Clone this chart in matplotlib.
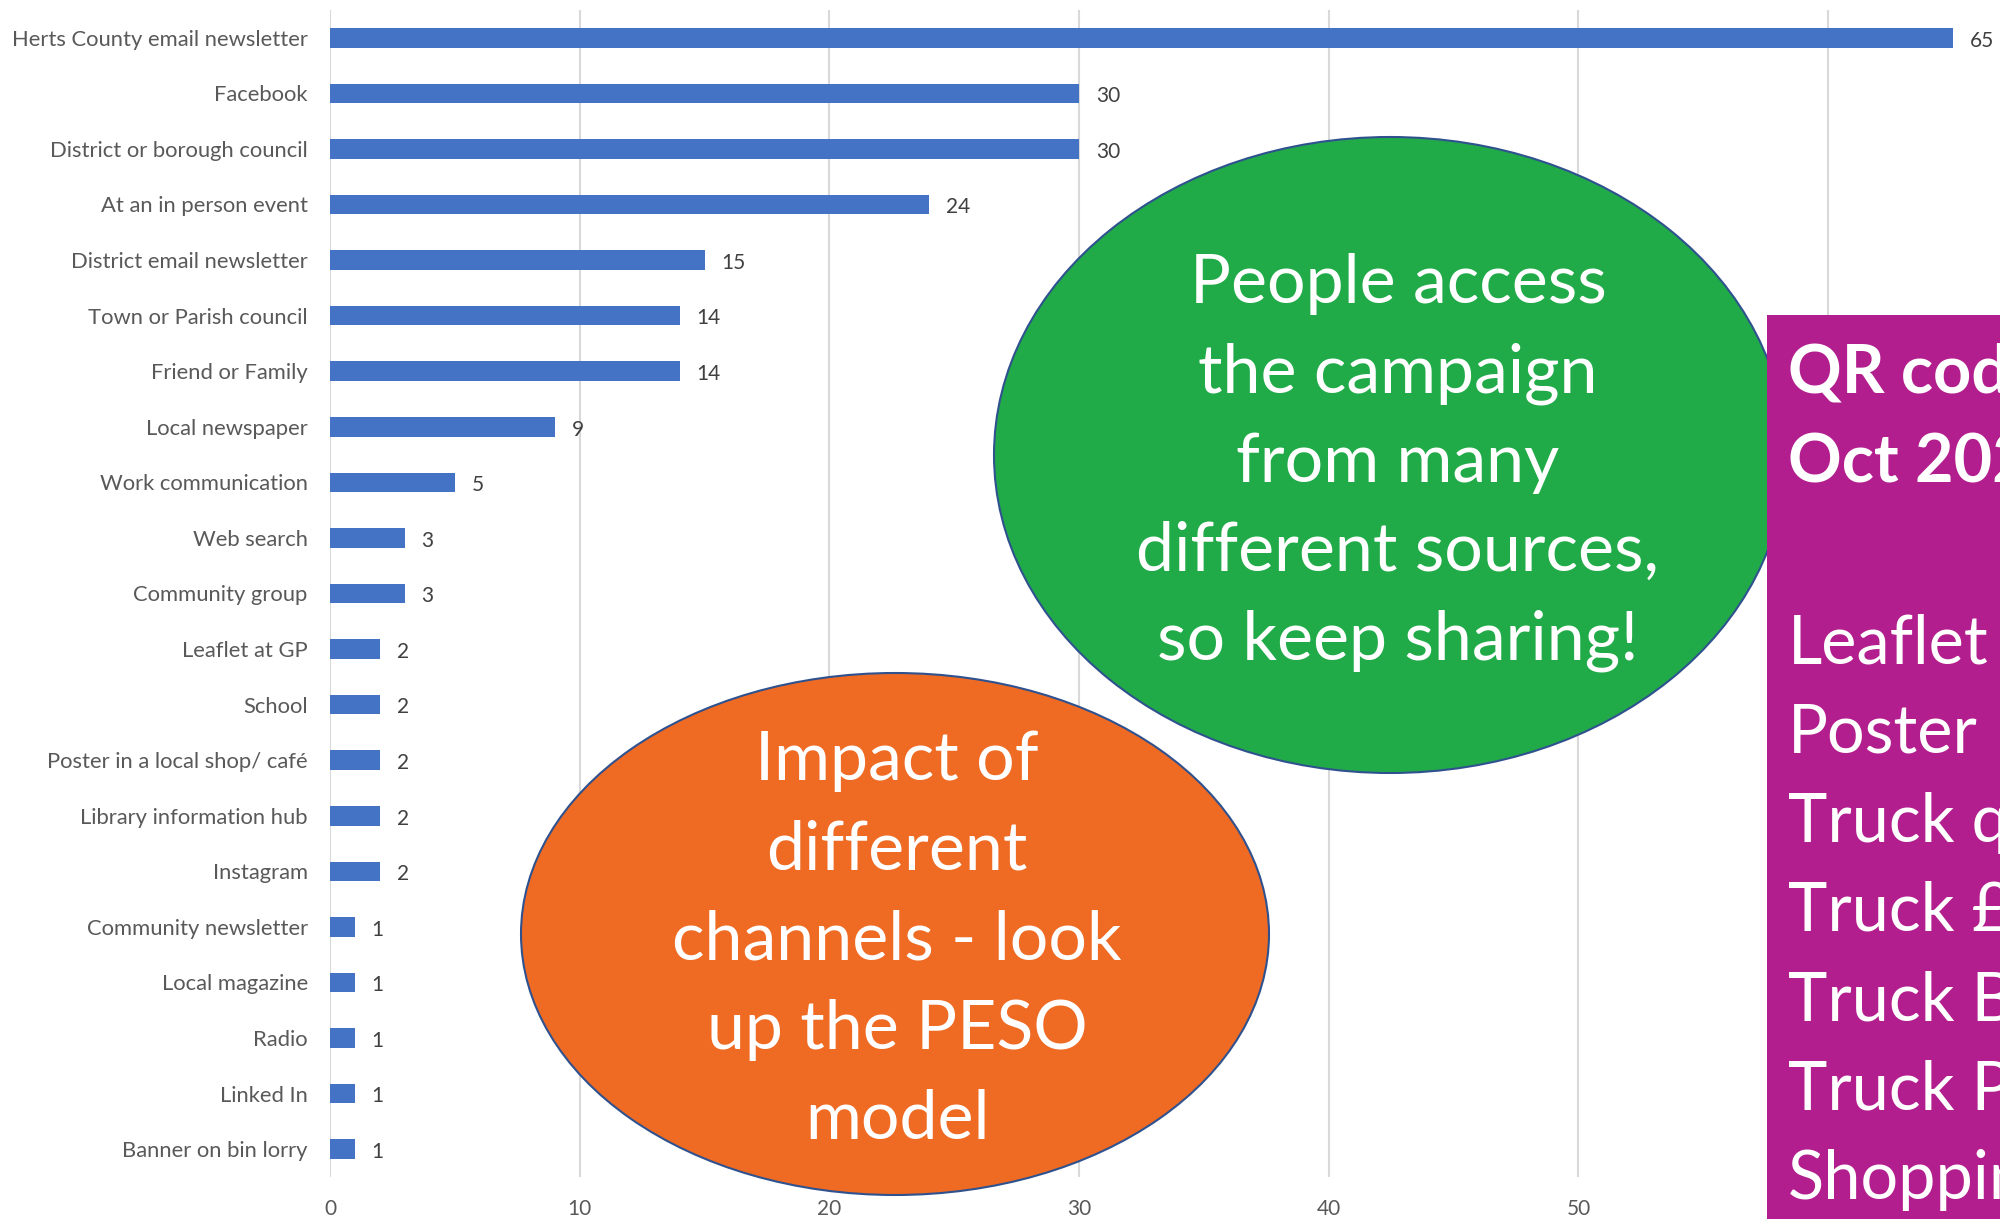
import matplotlib
matplotlib.use("Agg")
import matplotlib.pyplot as plt
from matplotlib.patches import Ellipse, Rectangle

categories = [
    "Herts County email newsletter", "Facebook", "District or borough council",
    "At an in person event", "District email newsletter", "Town or Parish council",
    "Friend or Family", "Local newspaper", "Work communication", "Web search",
    "Community group", "Leaflet at GP", "School", "Poster in a local shop/ café",
    "Library information hub", "Instagram", "Community newsletter", "Local magazine",
    "Radio", "Linked In", "Banner on bin lorry",
]
values = [65, 30, 30, 24, 15, 14, 14, 9, 5, 3, 3, 2, 2, 2, 2, 2, 1, 1, 1, 1, 1]
xticks = [0, 10, 20, 30, 40, 50, 60, 70]

green_lines = ["People access", "the campaign", "from many",
               "different sources,", "so keep sharing!"]
orange_lines = ["Impact of", "different", "channels - look", "up the PESO", "model"]
purple_bold = ["QR code scans", "Oct 2023"]
purple_lines = ["Leaflet", "Poster", "Truck qr", "Truck £", "Truck B", "Truck P", "Shopping"]

FONT = ["Lato", "DejaVu Sans"]
plt.rcParams['font.family'] = FONT

W, H = 2000, 1219
fig = plt.figure(figsize=(W / 100, H / 100), dpi=100)

# main axes: x=0 at px 330, 24.97 px/unit, top at 10 px, bottom at 1177 px
left = 330 / W
width = 70 * 24.97 / W
bottom = 1 - 1177 / H
height = (1177 - 10) / H
ax = fig.add_axes([left, bottom, width, height])

ypos = list(range(len(categories)))
ax.barh(ypos, values, height=0.35, color="#4472C4", zorder=2)
ax.set_ylim(len(categories) - 0.5, -0.5)
ax.set_xlim(0, 70)
ax.set_yticks(ypos)
ax.set_yticklabels(categories, fontsize=15.8, color="#595959")
ax.set_xticks(xticks)
ax.set_xticklabels([str(t) for t in xticks], fontsize=15, color="#595959")
ax.tick_params(axis="y", length=0, pad=16)
ax.tick_params(axis="x", length=0, pad=16)
ax.grid(axis="x", color="#D9D9D9", linewidth=1.5, zorder=0)
for s in ax.spines.values():
    s.set_visible(False)
for y, v in zip(ypos, values):
    ax.annotate(str(v), (v, y), xytext=(12, -2), textcoords="offset points",
                va="center", ha="left", fontsize=15, color="#404040")

# overlay in pixel coordinates
ov = fig.add_axes([0, 0, 1, 1], zorder=5)
ov.set_xlim(0, W)
ov.set_ylim(H, 0)
ov.axis("off")
ov.patch.set_alpha(0)

ov.add_patch(Ellipse((1390, 455), 792, 636, facecolor="#21AB48",
                     edgecolor="#2F528F", linewidth=1.5))
ov.add_patch(Ellipse((895, 934), 748, 522, facecolor="#EF6A23",
                     edgecolor="#2F528F", linewidth=1.5))
ov.add_patch(Rectangle((1767, 315), 300, 950, facecolor="#B31E8E", edgecolor="none"))

for i, t in enumerate(green_lines):
    ov.text(1398, 284 + i * 89.3, t, ha="center", va="center", color="white",
            fontsize=49)
for i, t in enumerate(orange_lines):
    ov.text(897, 761 + i * 89.7, t, ha="center", va="center", color="white",
            fontsize=49)
for i, t in enumerate(purple_bold):
    ov.text(1788, 374 + i * 89.5, t, ha="left", va="center", color="white",
            fontsize=48, fontweight="bold")
for i, t in enumerate(purple_lines):
    ov.text(1788, 644 + i * 89.3, t, ha="left", va="center", color="white",
            fontsize=48)

fig.savefig("out.png", dpi=100)
